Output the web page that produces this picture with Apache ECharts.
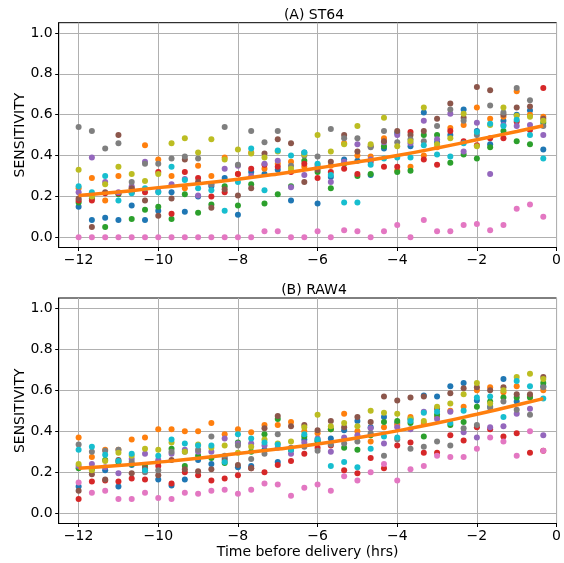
<!DOCTYPE html>
<html>
<head>
<meta charset="utf-8">
<script src="https://cdn.jsdelivr.net/npm/echarts@6/dist/echarts.min.js"></script>
<style>html,body{margin:0;padding:0;background:#fff}#c{width:564px;height:563px}</style>
</head>
<body>
<div id="c"></div>
<script>
const hours = [-12, -11.667, -11.333, -11, -10.667, -10.333, -10, -9.667, -9.333, -9, -8.667, -8.333, -8, -7.667, -7.333, -7, -6.667, -6.333, -6, -5.667, -5.333, -5, -4.667, -4.333, -4, -3.667, -3.333, -3, -2.667, -2.333, -2, -1.667, -1.333, -1, -0.667, -0.333];
const xTicks = [-12, -10, -8, -6, -4, -2, 0];
const yTicks = [0, 0.2, 0.4, 0.6, 0.8, 1.0];
const colors = ['#1f77b4', '#ff7f0e', '#2ca02c', '#d62728', '#9467bd', '#8c564b', '#e377c2', '#7f7f7f', '#bcbd22', '#17becf'];

// Panel A: ST64
const aBlue   = [.15,.085,.095,.085,.155,.085,.13,.22,.125,.20,.25,.29,.11,.32,.31,.33,.18,.415,.165,.295,.38,.375,.305,.435,.51,.445,.61,.465,.50,.625,.52,.455,.57,.60,.62,.43];
const aOrange = [.24,.29,.18,.30,.24,.45,.38,.30,.24,.35,.30,.39,.31,.415,.335,.36,.37,.345,.355,.35,.46,.40,.395,.485,.325,.345,.40,.44,.535,.55,.635,.58,.59,.715,.60,.59];
const aGreen  = [.17,.19,.05,.21,.09,.135,.15,.09,.21,.12,.16,.25,.155,.26,.165,.21,.25,.375,.32,.24,.36,.30,.31,.445,.32,.325,.50,.50,.365,.405,.385,.44,.52,.47,.455,.56];
const aRed    = [.18,.18,.215,.215,.22,.22,.32,.115,.32,.29,.20,.22,.31,.335,.355,.345,.32,.36,.29,.32,.335,.31,.37,.345,.345,.515,.38,.355,.52,.47,.45,.485,.485,.565,.525,.73];
const aPurple = [.22,.39,.27,.22,.25,.37,.225,.26,.285,.205,.26,.335,.35,.30,.36,.375,.245,.305,.345,.27,.37,.455,.38,.465,.50,.46,.57,.48,.605,.42,.56,.31,.55,.545,.55,.50];
const aBrown  = [.19,.05,.22,.50,.24,.18,.105,.19,.38,.27,.145,.235,.205,.24,.41,.48,.46,.27,.33,.37,.50,.42,.445,.47,.52,.50,.52,.58,.655,.585,.735,.72,.60,.635,.64,.58];
const aPink   = [0,0,0,0,0,0,0,0,0,0,0,0,0,0,.03,.03,0,0,.03,0,.035,.03,0,.03,.06,0,.085,.03,.03,.06,.065,.035,.06,.14,.16,.10];
const aGray   = [.54,.52,.435,.46,.27,.36,.36,.385,.395,.385,.26,.54,.355,.52,.465,.52,.35,.40,.395,.53,.485,.485,.44,.52,.465,.48,.47,.545,.625,.57,.50,.645,.61,.73,.67,.545];
const aOlive  = [.33,.20,.26,.345,.31,.275,.31,.46,.485,.415,.48,.38,.43,.41,.39,.42,.335,.405,.50,.42,.455,.545,.455,.585,.445,.47,.635,.455,.485,.605,.445,.55,.635,.595,.59,.57];
const aCyan   = [.25,.22,.30,.18,.215,.24,.22,.345,.28,.24,.23,.13,.27,.435,.23,.425,.40,.415,.36,.305,.17,.17,.355,.385,.39,.39,.45,.405,.395,.46,.515,.555,.545,.575,.50,.385];

// Panel B: RAW4
const bBlue   = [.13,.22,.21,.13,.235,.21,.165,.135,.165,.26,.24,.27,.225,.23,.31,.25,.31,.36,.355,.365,.405,.45,.42,.47,.44,.46,.575,.57,.62,.635,.55,.52,.655,.545,.57,.62];
const bOrange = [.37,.275,.31,.31,.36,.37,.41,.41,.40,.40,.44,.385,.41,.395,.43,.43,.445,.40,.39,.41,.485,.40,.35,.42,.43,.47,.44,.47,.50,.52,.60,.615,.59,.62,.575,.60];
const bGreen  = [.22,.215,.26,.25,.24,.23,.25,.315,.23,.28,.27,.245,.345,.30,.385,.46,.31,.375,.35,.41,.32,.31,.38,.445,.45,.44,.375,.48,.43,.445,.52,.545,.565,.565,.565,.635];
const bRed    = [.07,.155,.16,.155,.17,.165,.23,.145,.20,.185,.16,.17,.185,.22,.20,.235,.255,.29,.32,.33,.21,.195,.27,.22,.33,.345,.295,.295,.38,.355,.42,.41,.375,.39,.295,.305];
const bPurple = [.23,.24,.225,.195,.265,.29,.26,.29,.31,.30,.30,.365,.34,.34,.33,.32,.29,.345,.365,.30,.37,.38,.415,.34,.42,.41,.495,.46,.495,.395,.37,.42,.425,.485,.51,.38];
const bBrown  = [.11,.19,.165,.26,.195,.22,.185,.26,.215,.205,.215,.26,.235,.22,.415,.475,.425,.43,.405,.45,.42,.47,.445,.57,.55,.565,.57,.51,.585,.61,.615,.60,.615,.58,.58,.665];
const bPink   = [.15,.10,.11,.07,.07,.10,.075,.07,.10,.095,.11,.115,.095,.115,.145,.14,.085,.125,.14,.11,.18,.16,.20,.24,.16,.215,.23,.28,.275,.275,.315,.37,.35,.28,.40,.305];
const bGray   = [.335,.30,.305,.31,.25,.20,.21,.30,.30,.31,.375,.28,.33,.265,.29,.385,.32,.325,.305,.335,.34,.35,.39,.28,.36,.315,.325,.35,.33,.415,.43,.515,.545,.505,.48,.615];
const bOlive  = [.24,.21,.255,.295,.28,.315,.31,.345,.30,.335,.32,.33,.295,.325,.36,.34,.35,.42,.48,.425,.44,.425,.50,.49,.485,.46,.45,.52,.535,.58,.635,.535,.60,.665,.68,.655];
const bCyan   = [.31,.325,.285,.255,.29,.21,.28,.36,.34,.33,.33,.25,.385,.365,.345,.335,.31,.385,.36,.23,.25,.225,.315,.375,.37,.45,.49,.495,.44,.50,.565,.57,.47,.645,.62,.56];

// Fitted trend lines
const fitHours = [-12, -11, -10, -9, -8, -7, -6, -5, -4, -3, -2, -1, -0.333];
const fitA = [.205,.222,.243,.262,.284,.310,.339,.368,.400,.437,.477,.518,.546];
const fitB = [.220,.233,.249,.268,.291,.313,.338,.368,.402,.440,.483,.528,.559];

const panelA = [aBlue,aOrange,aGreen,aRed,aPurple,aBrown,aPink,aGray,aOlive,aCyan];
const panelB = [bBlue,bOrange,bGreen,bRed,bPurple,bBrown,bPink,bGray,bOlive,bCyan];

const FONT = 'DejaVu Sans';
const isMult = (v, s) => Math.abs(v / s - Math.round(v / s)) < 1e-6;

function xAxisCfg(idx, withName) {
  return {
    type: 'value', gridIndex: idx, min: -12.5, max: 0, interval: 0.5,
    name: withName ? 'Time before delivery (hrs)' : '',
    nameLocation: 'middle', nameGap: 22, nameMoveOverlap: false,
    nameTextStyle: {fontFamily: FONT, fontSize: 14, color: '#000'},
    axisLine: {show: true, onZero: false, lineStyle: {color: '#000', width: 1}},
    axisTick: {show: true, length: 3.5, inside: false, customValues: xTicks, lineStyle: {color: '#000', width: 1}},
    axisLabel: {
      show: true, margin: 6, customValues: xTicks, fontFamily: FONT, fontSize: 14, color: '#000',
      formatter: v => isMult(v, 2) ? (v < 0 ? '\u2212' + Math.abs(Math.round(v)) : String(Math.round(v))) : ''
    },
    splitLine: {show: true, showMinLine: true, showMaxLine: true, lineStyle: {color: '#b0b0b0', width: 1}}
  };
}
function yAxisCfg(idx) {
  return {
    type: 'value', gridIndex: idx, min: -0.05, max: 1.05, interval: 0.05,
    name: 'SENSITIVITY', nameLocation: 'middle', nameGap: 31, nameRotate: 90, nameMoveOverlap: false,
    nameTextStyle: {fontFamily: FONT, fontSize: 14, color: '#000'},
    axisLine: {show: true, onZero: false, lineStyle: {color: '#000', width: 1}},
    axisTick: {show: true, length: 3.5, inside: false, customValues: yTicks, lineStyle: {color: '#000', width: 1}},
    axisLabel: {
      show: true, margin: 6, customValues: yTicks, fontFamily: FONT, fontSize: 14, color: '#000',
      formatter: v => isMult(v, 0.2) ? v.toFixed(1) : ''
    },
    splitLine: {show: true, showMinLine: true, showMaxLine: true, lineStyle: {color: '#b0b0b0', width: 1}}
  };
}

const series = [];
[panelA, panelB].forEach((panel, pi) => {
  panel.forEach((vals, si) => {
    series.push({
      type: 'scatter', xAxisIndex: pi, yAxisIndex: pi,
      symbol: 'circle', symbolSize: 6,
      itemStyle: {color: colors[si], opacity: 1},
      data: hours.map((h, i) => [h, vals[i]]),
      z: 2 + si * 0.01
    });
  });
});
[fitA, fitB].forEach((fit, pi) => {
  series.push({
    type: 'line', xAxisIndex: pi, yAxisIndex: pi, smooth: true, symbol: 'none',
    lineStyle: {color: '#ff7f0e', width: 3.5}, z: 5,
    data: fitHours.map((h, i) => [h, fit[i]])
  });
});

const chart = echarts.init(document.getElementById('c'), null, {renderer: 'canvas'});
chart.setOption({
  animation: false,
  backgroundColor: '#fff',
  title: [
    {text: '(A) ST64', left: 309, top: 3, textAlign: 'center', textStyle: {fontFamily: FONT, fontSize: 14, fontWeight: 'normal', color: '#000'}},
    {text: '(B) RAW4', left: 309, top: 278, textAlign: 'center', textStyle: {fontFamily: FONT, fontSize: 14, fontWeight: 'normal', color: '#000'}}
  ],
  grid: [
    {left: 58.7, right: 4, top: 22.7, height: 224.8, show: true, borderColor: '#000', borderWidth: 1, backgroundColor: 'transparent'},
    {left: 58.7, right: 4, top: 298, height: 225.5, show: true, borderColor: '#000', borderWidth: 1, backgroundColor: 'transparent'}
  ],
  xAxis: [xAxisCfg(0, false), xAxisCfg(1, true)],
  yAxis: [yAxisCfg(0), yAxisCfg(1)],
  series: series
});
</script>
</body>
</html>
